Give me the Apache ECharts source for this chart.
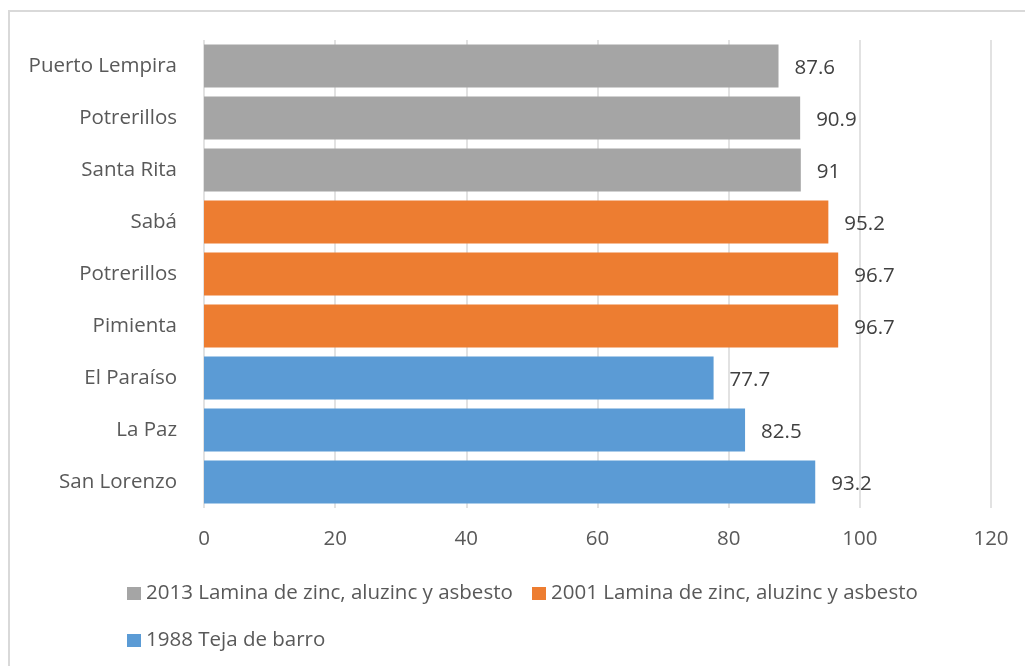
<!DOCTYPE html>
<html><head><meta charset="utf-8">
<script src="https://cdn.jsdelivr.net/npm/echarts@6/dist/echarts.min.js"></script>
<style>html,body{margin:0;padding:0;background:#fff}#c{width:1025px;height:666px}</style>
</head><body><div id="c"></div>
<script>
const categories = ['Puerto Lempira','Potrerillos','Santa Rita','Sabá','Potrerillos','Pimienta','El Paraíso','La Paz','San Lorenzo'];
const seriesNames = ['2013 Lamina de zinc, aluzinc y asbesto','2001 Lamina de zinc, aluzinc y asbesto','1988 Teja de barro'];
const values2013 = [87.6, 90.9, 91, null, null, null, null, null, null];
const values2001 = [null, null, null, 95.2, 96.7, 96.7, null, null, null];
const values1988 = [null, null, null, null, null, null, 77.7, 82.5, 93.2];
const xTicks = [0, 20, 40, 60, 80, 100, 120];
const colors = ['#A5A5A5', '#ED7D31', '#5B9BD5'];

const FONT = '"Open Sans", sans-serif';
const FS = 20.5;
const chart = echarts.init(document.getElementById('c'), null, {renderer: 'canvas'});
const mk = (name, data, color) => ({
  name, type: 'bar', stack: 'all', data,
  barCategoryGap: '17%',
  itemStyle: {color},
  label: {show: true, position: 'right', distance: 16, color: '#404040', fontFamily: FONT, fontSize: FS, offset: [0, 2]}
});
const legendText = {color: '#595959', fontFamily: FONT, fontSize: FS};
const lg = (name, left, top) => ({data: [name], left, top, icon: 'rect', itemWidth: 14, itemHeight: 13, itemGap: 14, padding: 0, textStyle: legendText});
chart.setOption({
  animation: false,
  backgroundColor: '#fff',
  graphic: [{type: 'rect', shape: {x: 9, y: 11, width: 1100, height: 700}, style: {fill: 'none', stroke: '#D9D9D9', lineWidth: 2}, silent: true}],
  grid: {left: 204, right: 34, top: 40, bottom: 158, containLabel: false},
  xAxis: {
    type: 'value', min: xTicks[0], max: xTicks[xTicks.length - 1], interval: 20,
    axisLine: {show: false}, axisTick: {show: false},
    splitLine: {show: true, lineStyle: {color: '#D9D9D9', width: 1.5}},
    axisLabel: {color: '#595959', fontFamily: FONT, fontSize: FS, margin: 21}
  },
  yAxis: {
    type: 'category', data: categories, inverse: true,
    axisLine: {show: false}, axisTick: {show: false},
    axisLabel: {color: '#595959', fontFamily: FONT, fontSize: FS, margin: 27}
  },
  legend: [
    lg(seriesNames[0], 127, 583),
    lg(seriesNames[1], 532, 583),
    lg(seriesNames[2], 127, 630)
  ],
  series: [
    mk(seriesNames[0], values2013, colors[0]),
    mk(seriesNames[1], values2001, colors[1]),
    mk(seriesNames[2], values1988, colors[2])
  ]
});
</script></body></html>
